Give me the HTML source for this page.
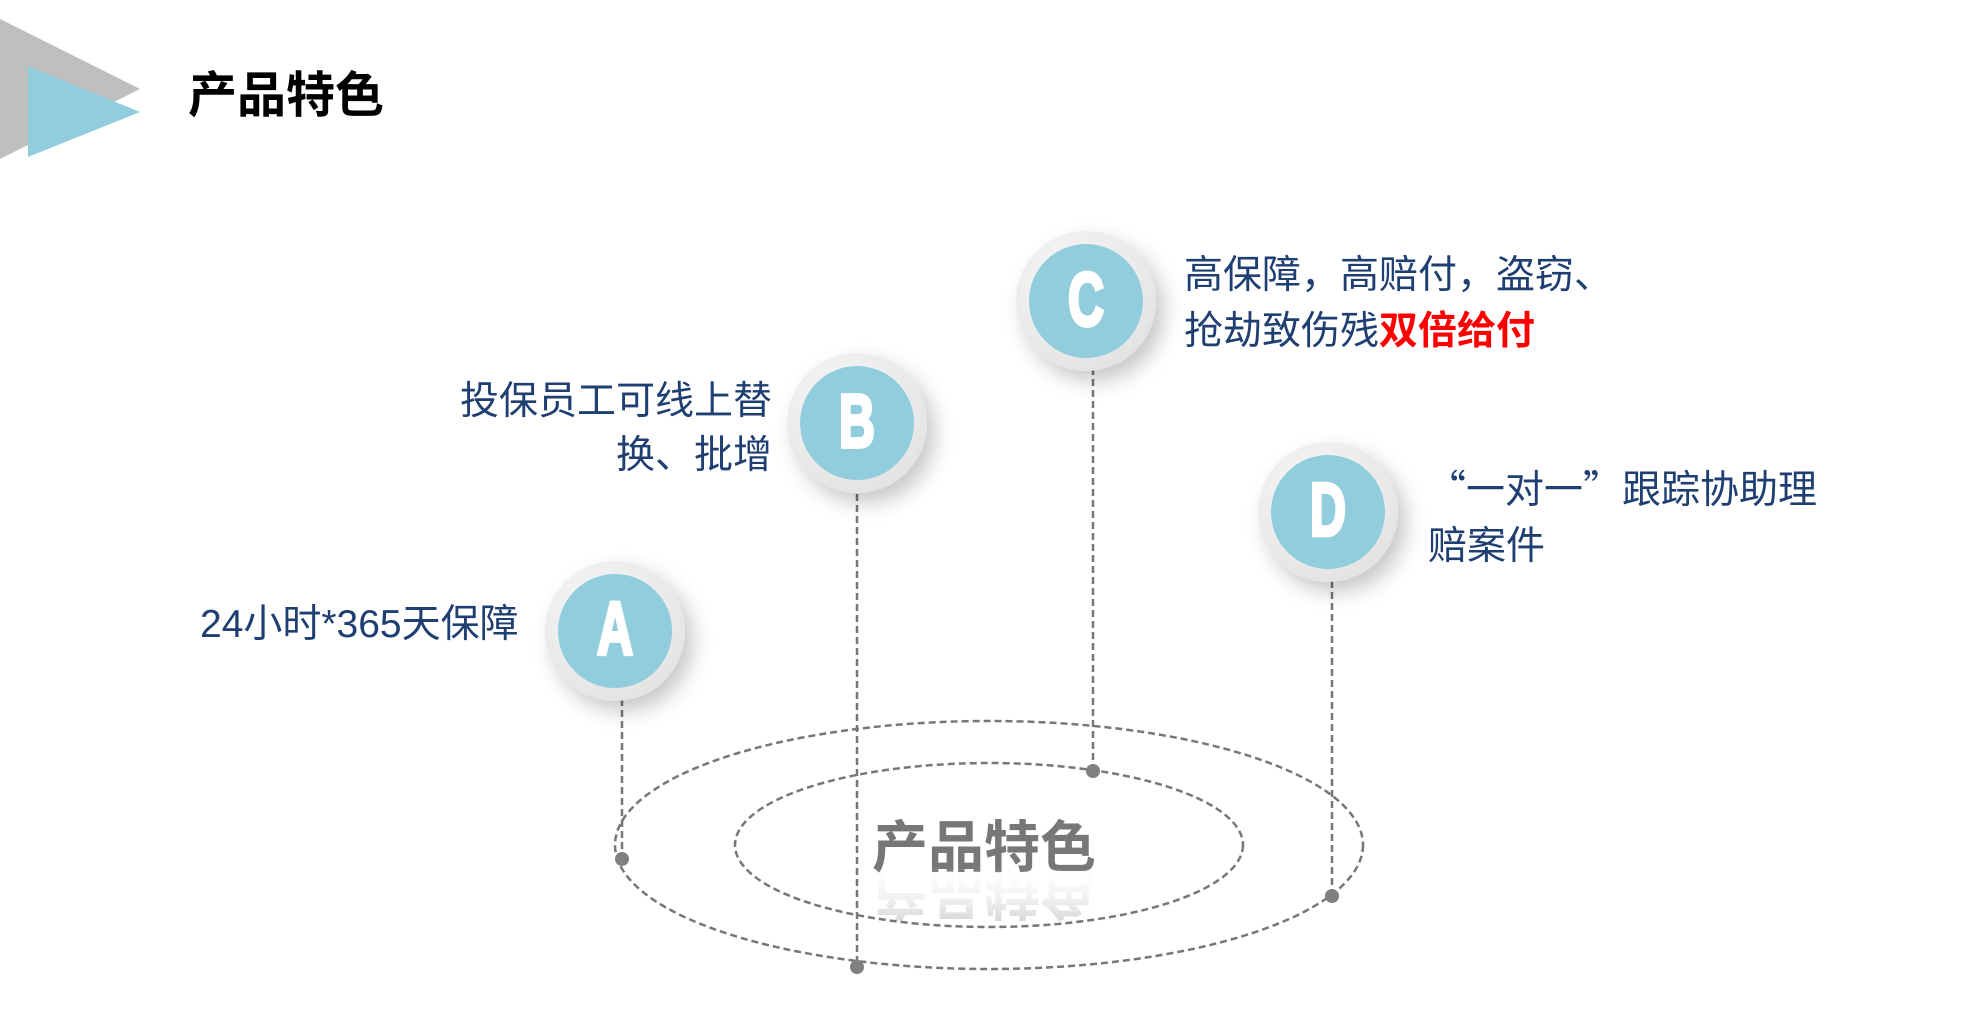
<!DOCTYPE html>
<html><head><meta charset="utf-8"><style>
html,body{margin:0;padding:0;background:#fff;width:1980px;height:1011px;overflow:hidden}
svg{display:block}
.t{font-family:"Liberation Sans","Noto Sans CJK SC",sans-serif;fill:#1f3f72;font-size:39px}
.L{font-family:"Liberation Sans","Noto Sans CJK SC",sans-serif;font-weight:bold;fill:#fff;stroke:#fff;stroke-width:2.5;font-size:50px}
</style></head><body>
<svg width="1980" height="1011" viewBox="0 0 1980 1011">
<defs>
<filter id="sh" x="-50%" y="-50%" width="200%" height="200%"><feDropShadow dx="8" dy="10" stdDeviation="10" flood-color="#000" flood-opacity="0.22"/></filter>
<radialGradient id="ring" cx="40%" cy="35%" r="70%"><stop offset="0" stop-color="#fafafa"/><stop offset="1" stop-color="#e2e2e2"/></radialGradient>
<linearGradient id="refl" x1="0" y1="0" x2="0" y2="1"><stop offset="0" stop-color="#888" stop-opacity="0.6"/><stop offset="1" stop-color="#fff" stop-opacity="0"/></linearGradient>
</defs>
<polygon points="0,19 140,89 0,159" fill="#bfbfbf"/>
<polygon points="28,66 140,112 28,157" fill="#92cddd"/>
<text x="188" y="112" font-family="'Liberation Sans','Noto Sans CJK SC',sans-serif" font-weight="bold" font-size="49" fill="#000">产品特色</text>

<g fill="none" stroke="#777" stroke-width="2.5" stroke-dasharray="7,4">
<ellipse cx="989" cy="845" rx="374" ry="124"/>
<ellipse cx="989" cy="845" rx="254" ry="82"/>
<line x1="622" y1="699" x2="622" y2="859"/>
<line x1="857" y1="494" x2="857" y2="967"/>
<line x1="1093" y1="368" x2="1093" y2="771"/>
<line x1="1332" y1="581" x2="1332" y2="896"/>
</g>
<g fill="#808080">
<circle cx="622" cy="859" r="7"/><circle cx="857" cy="967" r="7"/>
<circle cx="1093" cy="771" r="7"/><circle cx="1332" cy="896" r="7"/>
</g>

<text x="872" y="867" font-family="'Liberation Sans','Noto Sans CJK SC',sans-serif" font-weight="bold" font-size="56" fill="#777">产品特色</text>
<text x="872" y="-873" transform="scale(1,-1)" font-family="'Liberation Sans','Noto Sans CJK SC',sans-serif" font-weight="bold" font-size="56" fill="url(#refl)" opacity="0.6">产品特色</text>

<circle cx="615" cy="631" r="70" fill="url(#ring)" filter="url(#sh)"/><circle cx="615" cy="631" r="57" fill="#92cddd"/>
<text class="L" x="615" y="436" text-anchor="middle" transform="scale(1,1.5)">A</text>
<circle cx="857" cy="423" r="70" fill="url(#ring)" filter="url(#sh)"/><circle cx="857" cy="423" r="57" fill="#92cddd"/>
<text class="L" x="857" y="298" text-anchor="middle" transform="scale(1,1.5)">B</text>
<circle cx="1086" cy="301" r="70" fill="url(#ring)" filter="url(#sh)"/><circle cx="1086" cy="301" r="57" fill="#92cddd"/>
<text class="L" x="1086" y="217" text-anchor="middle" transform="scale(1,1.5)">C</text>
<circle cx="1328" cy="512" r="70" fill="url(#ring)" filter="url(#sh)"/><circle cx="1328" cy="512" r="57" fill="#92cddd"/>
<text class="L" x="1328" y="357" text-anchor="middle" transform="scale(1,1.5)">D</text>

<text class="t" x="1184" y="288">高保障，高赔付，盗窃、</text>
<text class="t" x="1184" y="344">抢劫致伤残<tspan fill="#ff0000" font-weight="bold">双倍给付</tspan></text>
<text class="t" x="772" y="414" text-anchor="end">投保员工可线上替</text>
<text class="t" x="772" y="468" text-anchor="end">换、批增</text>
<text class="t" x="200" y="637">24小时*365天保障</text>
<text class="t" x="1427" y="503"><tspan font-family="'Noto Sans CJK SC',sans-serif">“一对一”</tspan>跟踪协助理</text>
<text class="t" x="1428" y="559">赔案件</text>
</svg>
</body></html>
